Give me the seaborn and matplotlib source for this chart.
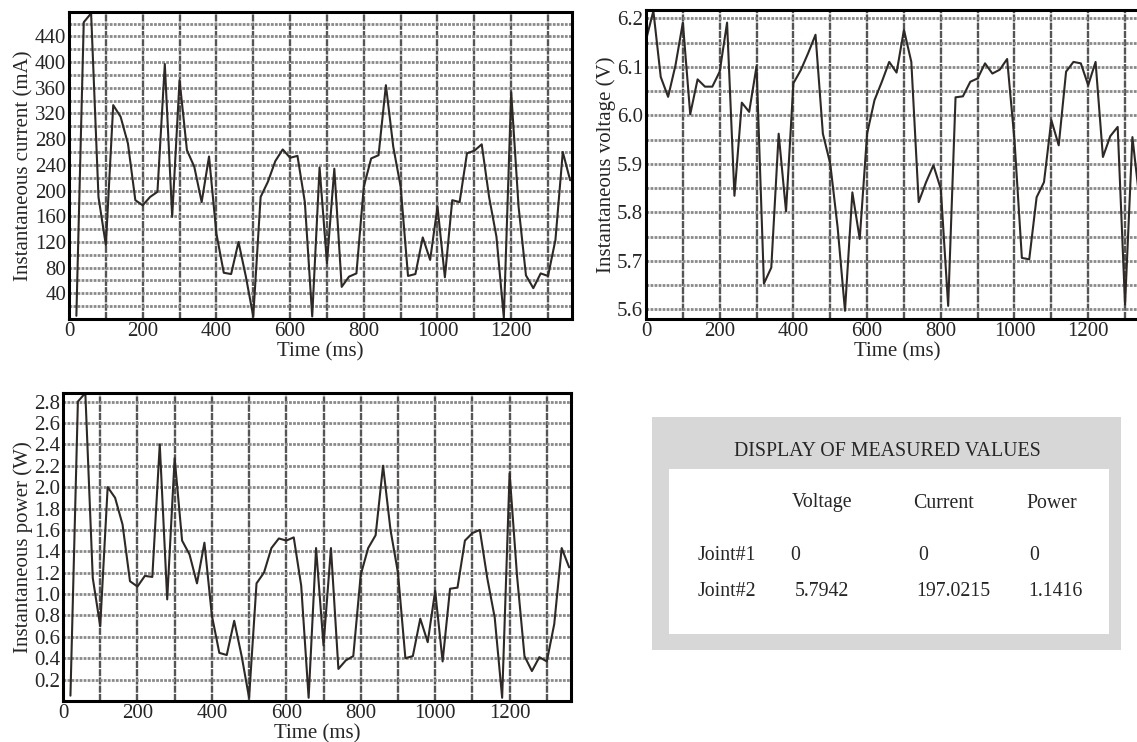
import numpy as np
import pandas as pd
import matplotlib
matplotlib.use("Agg")
import matplotlib.pyplot as plt
import seaborn as sns
from matplotlib.ticker import MultipleLocator
from matplotlib.patches import Rectangle

# sampled every 20 ms
current_ms = list(range(20, 1380, 20))
current_ma = [5, 462, 476, 190, 115, 333, 315, 273, 185, 177,
              190, 198, 397, 159, 372, 263, 237, 182, 253, 133,
              72, 70, 120, 66, 4, 190, 214, 246, 264, 251,
              254, 182, 4, 236, 87, 234, 50, 66, 71, 206,
              250, 255, 364, 268, 206, 67, 70, 127, 92, 175,
              65, 185, 182, 258, 262, 272, 190, 128, 2, 353,
              175, 68, 48, 71, 67, 123, 260, 216]

voltage_ms = list(range(0, 1360, 20))
voltage_v = [6.155, 6.215, 6.079, 6.038, 6.103, 6.191, 6.002, 6.074, 6.059, 6.059,
             6.090, 6.191, 5.834, 6.026, 6.007, 6.101, 5.653, 5.686, 5.962, 5.802,
             6.066, 6.093, 6.128, 6.166, 5.962, 5.900, 5.769, 5.597, 5.841, 5.745,
             5.962, 6.031, 6.069, 6.110, 6.088, 6.176, 6.110, 5.821, 5.862, 5.897,
             5.848, 5.607, 6.037, 6.039, 6.069, 6.076, 6.107, 6.086, 6.094, 6.116,
             5.948, 5.706, 5.703, 5.831, 5.862, 5.990, 5.938, 6.090, 6.110, 6.107,
             6.062, 6.110, 5.914, 5.957, 5.976, 5.610, 5.955, 5.820]

power_ms = list(range(20, 1380, 20))
power_w = [0.05, 2.80, 2.88, 1.15, 0.70, 2.00, 1.90, 1.65, 1.12, 1.07,
           1.17, 1.16, 2.40, 0.95, 2.27, 1.50, 1.37, 1.10, 1.48, 0.80,
           0.45, 0.43, 0.75, 0.42, 0.03, 1.10, 1.20, 1.43, 1.52, 1.50,
           1.53, 1.08, 0.03, 1.43, 0.52, 1.43, 0.30, 0.38, 0.42, 1.18,
           1.43, 1.55, 2.20, 1.60, 1.20, 0.40, 0.42, 0.77, 0.55, 1.03,
           0.37, 1.05, 1.06, 1.50, 1.57, 1.60, 1.15, 0.78, 0.03, 2.13,
           1.17, 0.42, 0.28, 0.41, 0.37, 0.72, 1.43, 1.25]

table_title = "DISPLAY OF MEASURED VALUES"
table_cols = ["Voltage", "Current", "Power"]
table_rows = ["Joint#1", "Joint#2"]
table_vals = [["0", "0", "0"], ["5.7942", "197.0215", "1.1416"]]

sns.set_style("white")
plt.rcParams['font.family'] = ['Liberation Serif', 'DejaVu Serif']

W, H = 1137, 742
fig = plt.figure(figsize=(W / 100, H / 100), dpi=100)


def px_axes(left, top, right, bottom):
    return fig.add_axes([left / W, 1 - bottom / H, (right - left) / W, (bottom - top) / H])


line_color = '#2e2926'
fs = 15


def style_axes(ax, ymajor, yminor, ylim, ylabel, yfmt):
    ax.set_xlim(0, 1365)
    ax.set_ylim(*ylim)
    ax.xaxis.set_major_locator(MultipleLocator(200))
    ax.xaxis.set_minor_locator(MultipleLocator(100))
    ax.yaxis.set_major_locator(MultipleLocator(ymajor))
    ax.yaxis.set_minor_locator(MultipleLocator(yminor))
    ax.grid(True, axis='x', which='both', color='#555555', lw=1.7,
            linestyle=(0, (3, 0.5)), zorder=0)
    ax.grid(True, axis='y', which='both', color='#8a8a8a', lw=2.0,
            linestyle=(0, (1, 0.45)), zorder=0)
    ax.tick_params(which='both', length=0, labelsize=fs, pad=2)
    ax.yaxis.set_major_formatter(plt.FuncFormatter(yfmt))
    ax.set_xlabel("Time (ms)", fontsize=fs, labelpad=1)
    ax.set_ylabel(ylabel, fontsize=fs, labelpad=1)
    for s in ax.spines.values():
        s.set_color('black')
        s.set_linewidth(2.2)
    ax.set_axisbelow(True)


# current
ax1 = px_axes(69, 12, 572, 319)
df1 = pd.DataFrame({'t': current_ms, 'v': current_ma})
sns.lineplot(data=df1, x='t', y='v', ax=ax1, color=line_color, lw=1.5)
style_axes(ax1, 40, 20, (0, 478), "Instantaneous current (mA)",
           lambda v, p: "" if v <= 0 or v > 460 else f"{v:.0f}")

# voltage
ax2 = px_axes(646, 10, 1149, 319)
df2 = pd.DataFrame({'t': voltage_ms, 'v': voltage_v})
sns.lineplot(data=df2, x='t', y='v', ax=ax2, color=line_color, lw=1.5)
style_axes(ax2, 0.1, 0.05, (5.58, 6.217), "Instantaneous voltage (V)",
           lambda v, p: f"{v:.1f}")
ax2.spines['right'].set_visible(False)

# power
ax3 = px_axes(63, 393, 571, 701)
df3 = pd.DataFrame({'t': power_ms, 'v': power_w})
sns.lineplot(data=df3, x='t', y='v', ax=ax3, color=line_color, lw=1.5)
style_axes(ax3, 0.2, 0.2, (0, 2.88), "Instantaneous power (W)",
           lambda v, p: "" if v <= 0.01 else f"{v:.1f}")

# measured values box
fig.patches.append(Rectangle((652 / W, 1 - 650 / H), (1121 - 652) / W, (650 - 417) / H,
                             transform=fig.transFigure, facecolor='#d7d7d7',
                             edgecolor='none', zorder=0))
fig.patches.append(Rectangle((669 / W, 1 - 634 / H), (1109 - 669) / W, (634 - 469) / H,
                             transform=fig.transFigure, facecolor='white',
                             edgecolor='none', zorder=1))
tfs = 14.3
fig.text(887 / W, 1 - 452 / H, table_title, fontsize=tfs, ha='center', va='center')
col_x = [822, 943, 1052]
for cx, name in zip(col_x, table_cols):
    fig.text(cx / W, 1 - 503 / H, name, fontsize=tfs, ha='center', va='center')
row_y = [555, 592]
val_x = [[790, 918, 1029], [795, 916, 1028]]
for r, (ry, name) in enumerate(zip(row_y, table_rows)):
    fig.text(698 / W, 1 - ry / H, name, fontsize=tfs, ha='left', va='center')
    for vx, val in zip(val_x[r], table_vals[r]):
        fig.text(vx / W, 1 - ry / H, val, fontsize=tfs, ha='left', va='center')

fig.savefig("out.png", dpi=100)
